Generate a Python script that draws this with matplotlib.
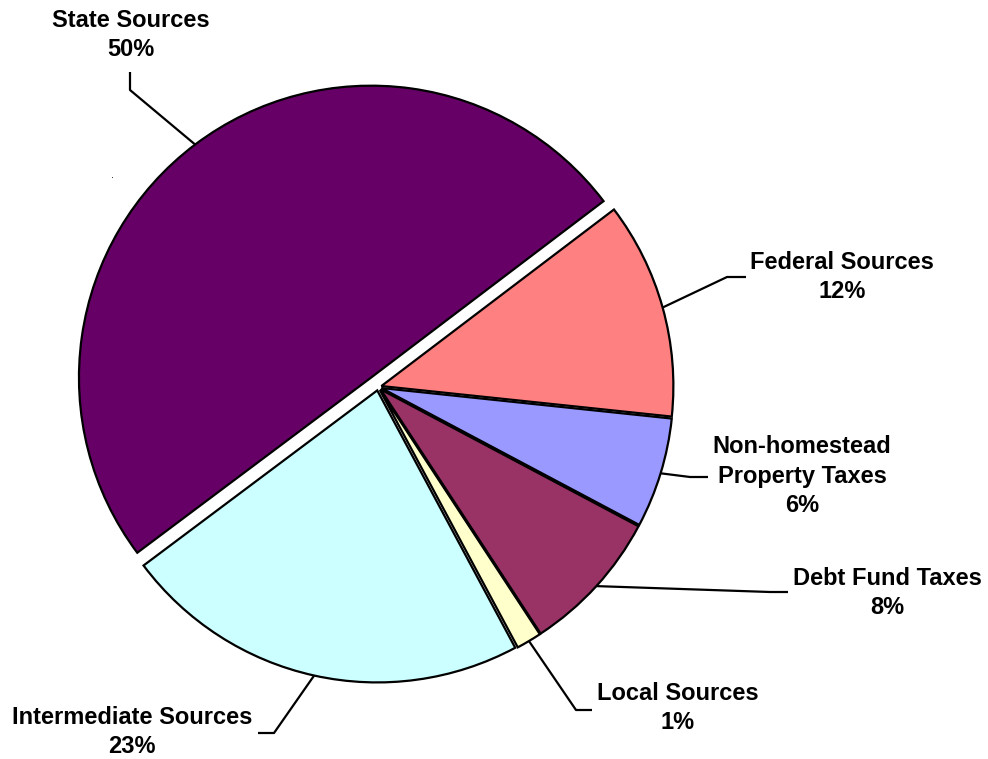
import numpy as np
import matplotlib
matplotlib.use('Agg')
import matplotlib.pyplot as plt

# revenue sources, share in percent
sources = ['State Sources', 'Federal Sources', 'Non-homestead\nProperty Taxes',
           'Debt Fund Taxes', 'Local Sources', 'Intermediate Sources']
shares = [49.9, 12.0, 6.1, 8.0, 1.4, 22.6]
colors = ['#660066', '#FF8080', '#9999FF', '#993366', '#FFFFCC', '#CCFFFF']
explode = [0.04, 0.012, 0.012, 0.012, 0.012, 0.012]   # fraction of radius

W, H = 988, 759
R = 292

# label block centre and elbow of the leader line, in picture pixels (y down)
label_pos = [(131, 35), (842, 277), (802, 476), (887, 593), (678, 708), (132, 732)]
elbow_pos = [(130, 90), (727, 277), (690, 477), (770, 592), (576, 710), (274, 733)]
elbow_end = [(130, 72), (746, 277), (708, 477), (788, 592), (592, 710), (258, 733)]

plt.rcParams['font.family'] = ['Liberation Sans', 'DejaVu Sans']

fig = plt.figure(figsize=(W / 100, H / 100), dpi=100)
ax = fig.add_axes([0, 0, 1, 1])

def py(y):
    # flip picture y to data y
    return H - y

# explode in pie() is in data units, so scale by the radius
wedges, _ = ax.pie(shares, colors=colors, explode=[e * R for e in explode],
                   startangle=216.84, counterclock=False,
                   center=(378, py(387)), radius=R,
                   wedgeprops=dict(edgecolor='black', linewidth=1.6))

# pie() resets the limits, so set them afterwards
ax.set_xlim(0, W)
ax.set_ylim(0, H)
ax.set_aspect('equal')
ax.axis('off')

for i, w in enumerate(wedges):
    mid = np.deg2rad((w.theta1 + w.theta2) / 2)
    cx, cy = w.center
    x0 = cx + w.r * np.cos(mid)
    y0 = cy + w.r * np.sin(mid)
    ex, ey = elbow_pos[i]
    fx, fy = elbow_end[i]
    ax.plot([x0, ex, fx], [y0, py(ey), py(fy)], color='black', lw=1.6,
            solid_capstyle='butt', zorder=5)
    txt = '%s\n%d%%' % (sources[i], round(shares[i]))
    lx, ly = label_pos[i]
    ax.text(lx, py(ly), txt, ha='center', va='center', fontsize=17,
            fontweight='bold', linespacing=1.35)

# stray dot left over in the original
ax.text(112, py(180), '.', ha='center', va='bottom', fontsize=8)

fig.savefig('out.png', dpi=100)
